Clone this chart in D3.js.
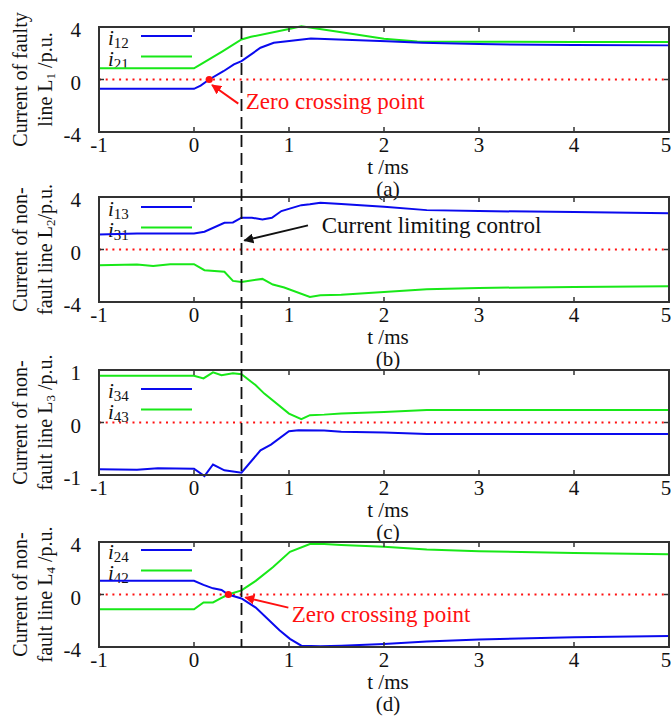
<!DOCTYPE html>
<html>
<head>
<meta charset="utf-8">
<script src="https://cdn.jsdelivr.net/npm/d3@7"></script>
<style>
  body { margin: 0; background: #fff; }
  svg { display: block; font-family: "Liberation Serif", "Times New Roman", serif; }
</style>
</head>
<body>
<svg id="chart" width="671" height="716"></svg>
<script>
// ----------

const WIDTH = 671;
const HEIGHT = 716;
const PLOT_LEFT = 99;
const PLOT_RIGHT = 669;
const PANEL_TOPS = [27, 197, 370, 542];
const PANEL_H = 105;

const BLUE = "#0a0aee";
const GREEN = "#18e818";
const RED = "#ff1010";
const FRAME = "#333";

const X_TICKS = [-1, 0, 1, 2, 3, 4, 5];
const LIMIT_T = 0.5; // current limiting instant

// ---------- data, [t (ms), i (p.u.)]

const i12 = [[-1,-0.71],[0,-0.71],[0.07,-0.46],[0.16,0],[0.31,0.63],[0.42,1.15],[0.5,1.4],[0.7,2.42],
  [0.84,2.8],[0.98,2.92],[1.23,3.13],[2.03,2.92],[2.4,2.8],[3,2.7],[4,2.62],[5,2.6]];
const i21 = [[-1,0.85],[0,0.85],[0.07,1.15],[0.3,2.15],[0.5,3.05],[0.6,3.25],[1.0,3.85],[1.13,4.05],
  [1.5,3.65],[2.0,3.1],[2.35,2.9],[3,2.88],[4,2.86],[5,2.85]];

const i13 = [[-1,1.15],[-0.6,1.22],[0,1.22],[0.11,1.35],[0.32,2.04],[0.41,2.06],[0.5,2.42],[0.61,2.42],
  [0.72,2.29],[0.82,2.42],[0.92,2.93],[1.13,3.38],[1.22,3.44],[1.33,3.56],[1.55,3.46],[2.0,3.26],
  [2.45,3.0],[3.0,2.93],[4.0,2.85],[5.0,2.77]];
const i31 = [[-1,-1.2],[-0.6,-1.15],[-0.43,-1.25],[-0.25,-1.12],[0,-1.12],[0.11,-1.58],[0.32,-1.7],
  [0.41,-2.39],[0.5,-2.47],[0.72,-2.24],[0.83,-2.67],[0.95,-2.9],[1.22,-3.61],[1.33,-3.49],[1.55,-3.44],
  [2.0,-3.23],[2.45,-3.03],[3.0,-2.93],[4.0,-2.85],[5.0,-2.8]];

const i34 = [[-1,-0.89],[-0.6,-0.9],[-0.38,-0.87],[0,-0.88],[0.11,-1.02],[0.2,-0.8],[0.32,-0.91],
  [0.5,-0.955],[0.7,-0.53],[0.81,-0.42],[1.0,-0.166],[1.1,-0.146],[1.37,-0.153],[1.55,-0.178],
  [2.0,-0.19],[2.45,-0.22],[3.0,-0.217],[4.0,-0.217],[5.0,-0.22]];
const i43 = [[-1,0.89],[0,0.89],[0.1,0.84],[0.2,0.955],[0.29,0.9],[0.41,0.94],[0.5,0.92],[0.65,0.71],
  [0.74,0.55],[1.0,0.17],[1.13,0.064],[1.22,0.14],[1.37,0.15],[1.55,0.17],[2.0,0.2],[2.45,0.24],
  [3,0.24],[4,0.24],[5,0.24]];

const i24 = [[-1,1.04],[0,1.04],[0.1,0.73],[0.2,0.47],[0.29,0.34],[0.36,0],[0.5,-0.3],[0.65,-1.0],
  [0.9,-2.73],[1.01,-3.38],[1.13,-3.9],[1.33,-3.95],[1.55,-3.9],[2.0,-3.77],[2.45,-3.58],[3.0,-3.43],
  [4.0,-3.25],[5.0,-3.17]];
const i42 = [[-1,-1.12],[0,-1.12],[0.1,-0.6],[0.2,-0.6],[0.29,-0.26],[0.36,0],[0.5,0.31],[0.65,1.04],
  [0.83,2.08],[1.01,3.25],[1.22,3.84],[1.37,3.84],[1.55,3.77],[2.0,3.64],[2.45,3.43],[3.0,3.3],
  [4.0,3.17],[5.0,3.06]];

const PANELS = [
  { tag: "(a)", yDomain: [-4, 4], yTicks: [-4, 0, 4], label1: "Current of faulty", label2: ["line L", "1", " /p.u."],
    blue: i12, green: i21, names: [["12"], ["21"]], legendDy: 9,
    note: { text: "Zero crossing point", color: RED, at: [0.545, -2.22], from: [0.466, -1.84], to: [0.19, -0.42], dot: [0.16, 0] } },
  { tag: "(b)", yDomain: [-4, 4], yTicks: [-4, 0, 4], label1: "Current of non-", label2: ["fault line L", "2", "/p.u."],
    blue: i13, green: i31, names: [["13"], ["31"]], legendDy: 10,
    note: { text: "Current limiting control", color: "#111", at: [1.344, 1.23], from: [1.2, 1.84], to: [0.53, 0.68] } },
  { tag: "(c)", yDomain: [-1, 1], yTicks: [-1, 0, 1], label1: "Current of non-", label2: ["fault line L", "3", " /p.u."],
    blue: i34, green: i43, names: [["34"], ["43"]], legendDy: 19 },
  { tag: "(d)", yDomain: [-4, 4], yTicks: [-4, 0, 4], label1: "Current of non-", label2: ["fault line L", "4", " /p.u."],
    blue: i24, green: i42, names: [["24"], ["42"]], legendDy: 8,
    note: { text: "Zero crossing point", color: RED, at: [1.028, -2.07], from: [0.993, -1.0], to: [0.54, -0.22], dot: [0.362, 0] } },
];

// ----------

const svg = d3.select("#chart");
svg.append("rect").attr("width", WIDTH).attr("height", HEIGHT).attr("fill", "#fff");

const defs = svg.append("defs");
function addArrowHead(id, color) {
  defs.append("marker")
    .attr("id", id)
    .attr("viewBox", "0 0 10 10")
    .attr("refX", 9).attr("refY", 5)
    .attr("markerWidth", 5).attr("markerHeight", 5)
    .attr("markerUnits", "strokeWidth")
    .attr("orient", "auto")
    .append("path").attr("d", "M0,0 L10,5 L0,10 Z").attr("fill", color);
}
addArrowHead("head-red", RED);
addArrowHead("head-black", "#111");

const x = d3.scaleLinear().domain([-1, 5]).range([PLOT_LEFT, PLOT_RIGHT]);

function drawPanel(p, top) {
  const bottom = top + PANEL_H;
  const y = d3.scaleLinear().domain(p.yDomain).range([bottom, top]);
  const g = svg.append("g");

  // zero reference
  g.append("line")
    .attr("x1", x(-1)).attr("x2", x(5)).attr("y1", y(0)).attr("y2", y(0))
    .attr("stroke", RED).attr("stroke-width", 2).attr("stroke-dasharray", "2,4.7");

  // legend
  const legX = 108;
  [p.names[0], p.names[1]].forEach((nm, k) => {
    const ly = top + p.legendDy + k * 20.5;
    const t = g.append("text").attr("x", legX).attr("y", ly + 9).attr("font-size", 21).attr("fill", "#111");
    t.append("tspan").attr("font-style", "italic").text("i");
    t.append("tspan").attr("font-size", 15).attr("dy", 3).text(nm[0]);
    g.append("line")
      .attr("x1", 141).attr("x2", 192).attr("y1", ly).attr("y2", ly)
      .attr("stroke", k === 0 ? BLUE : GREEN).attr("stroke-width", 2);
  });

  // series
  const line = d3.line().x(d => x(d[0])).y(d => y(d[1]));
  g.append("path").datum(p.green).attr("d", line)
    .attr("fill", "none").attr("stroke", GREEN).attr("stroke-width", 2);
  g.append("path").datum(p.blue).attr("d", line)
    .attr("fill", "none").attr("stroke", BLUE).attr("stroke-width", 2);

  // frame and inward ticks
  g.append("rect")
    .attr("x", PLOT_LEFT).attr("y", top).attr("width", PLOT_RIGHT - PLOT_LEFT).attr("height", PANEL_H)
    .attr("fill", "none").attr("stroke", FRAME).attr("stroke-width", 2);
  X_TICKS.forEach(v => {
    g.append("line").attr("x1", x(v)).attr("x2", x(v)).attr("y1", bottom).attr("y2", bottom - 5)
      .attr("stroke", FRAME).attr("stroke-width", 1.5);
    g.append("line").attr("x1", x(v)).attr("x2", x(v)).attr("y1", top).attr("y2", top + 5)
      .attr("stroke", FRAME).attr("stroke-width", 1.5);
    g.append("text").attr("x", v === 5 ? x(v) - 3 : x(v)).attr("y", bottom + 20)
      .attr("text-anchor", "middle").attr("font-size", 21).attr("fill", "#111").text(v);
  });
  p.yTicks.forEach(v => {
    g.append("line").attr("x1", PLOT_LEFT).attr("x2", PLOT_LEFT + 5).attr("y1", y(v)).attr("y2", y(v))
      .attr("stroke", FRAME).attr("stroke-width", 1.5);
    g.append("line").attr("x1", PLOT_RIGHT).attr("x2", PLOT_RIGHT - 5).attr("y1", y(v)).attr("y2", y(v))
      .attr("stroke", FRAME).attr("stroke-width", 1.5);
    g.append("text").attr("x", PLOT_LEFT - 18).attr("y", y(v) + 10)
      .attr("text-anchor", "end").attr("font-size", 21).attr("fill", "#111").text(v);
  });

  // axis title and panel tag
  const midX = 388;
  g.append("text").attr("x", midX).attr("y", bottom + 42)
    .attr("text-anchor", "middle").attr("font-size", 21).attr("fill", "#111").text("t /ms");
  g.append("text").attr("x", midX).attr("y", bottom + 64)
    .attr("text-anchor", "middle").attr("font-size", 21).attr("fill", "#111").text(p.tag);

  // y label, two rotated lines
  const midY = (top + bottom) / 2;
  g.append("text").attr("transform", `translate(27,${midY}) rotate(-90)`)
    .attr("text-anchor", "middle").attr("font-size", 20).attr("fill", "#111").text(p.label1);
  const l2 = g.append("text").attr("transform", `translate(52,${midY}) rotate(-90)`)
    .attr("text-anchor", "middle").attr("font-size", 20).attr("fill", "#111");
  l2.append("tspan").text(p.label2[0]);
  l2.append("tspan").attr("font-size", 13).attr("dy", 3).text(p.label2[1]);
  l2.append("tspan").attr("dy", -3).text(p.label2[2]);

  // annotation
  if (p.note) {
    const n = p.note;
    g.append("line")
      .attr("x1", x(n.from[0])).attr("y1", y(n.from[1]))
      .attr("x2", x(n.to[0])).attr("y2", y(n.to[1]))
      .attr("stroke", n.color).attr("stroke-width", 2)
      .attr("marker-end", n.color === RED ? "url(#head-red)" : "url(#head-black)");
    g.append("text").attr("x", x(n.at[0])).attr("y", y(n.at[1]))
      .attr("font-size", 23).attr("fill", n.color).text(n.text);
    if (n.dot) {
      g.append("circle").attr("cx", x(n.dot[0])).attr("cy", y(n.dot[1])).attr("r", 3.6).attr("fill", RED);
    }
  }
  return y;
}

PANELS.forEach((p, i) => drawPanel(p, PANEL_TOPS[i]));

// dashed marker at the current limiting instant, across all panels
svg.append("line")
  .attr("x1", x(LIMIT_T)).attr("x2", x(LIMIT_T))
  .attr("y1", PANEL_TOPS[0]).attr("y2", PANEL_TOPS[3] + PANEL_H)
  .attr("stroke", "#111").attr("stroke-width", 1.8).attr("stroke-dasharray", "12,6");
</script>
</body>
</html>
